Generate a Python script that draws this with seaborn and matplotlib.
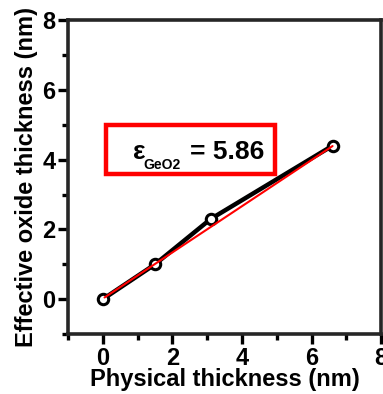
import matplotlib
matplotlib.use('Agg')
import matplotlib.pyplot as plt
import numpy as np
import pandas as pd
import seaborn as sns
from matplotlib.ticker import MultipleLocator
from matplotlib.patches import Rectangle

# measured points
phys_nm = [0.0, 1.5, 3.1, 6.6]
eot_nm = [0.0, 1.0, 2.3, 4.4]
# linear fit (k = 5.86)
fit_x = [0.05, 6.6]
fit_y = [0.05, 4.39]

sns.set_style('ticks')
plt.rcParams['font.family'] = ['Liberation Sans', 'DejaVu Sans']
plt.rcParams['font.weight'] = 'bold'
plt.rcParams['text.color'] = 'black'
plt.rcParams['axes.labelcolor'] = 'black'
plt.rcParams['xtick.color'] = 'black'
plt.rcParams['ytick.color'] = 'black'

fig = plt.figure(figsize=(3.83, 3.94), dpi=100)
ax = fig.add_axes([0.1775, 0.152, 0.818, 0.797])

df = pd.DataFrame({'x': phys_nm, 'y': eot_nm})
sns.lineplot(data=df, x='x', y='y', ax=ax, color='black', lw=3.2,
             marker='o', markersize=7.5, markerfacecolor='white',
             markeredgecolor='black', markeredgewidth=2.2, zorder=3)
sns.lineplot(x=fit_x, y=fit_y, ax=ax, color='red', lw=1.5, zorder=4)

ax.set_xlim(-1, 8)
ax.set_ylim(-1, 8)
ax.xaxis.set_major_locator(MultipleLocator(2))
ax.xaxis.set_minor_locator(MultipleLocator(1))
ax.yaxis.set_major_locator(MultipleLocator(2))
ax.yaxis.set_minor_locator(MultipleLocator(1))
ax.tick_params(which='major', direction='out', length=7, width=2.4,
               labelsize=17, pad=2)
ax.tick_params(which='minor', direction='out', length=4, width=2.4)
for lab in ax.get_xticklabels() + ax.get_yticklabels():
    lab.set_fontweight('bold')
for s in ax.spines.values():
    s.set_linewidth(2.6)

ax.set_xlabel('Physical thickness (nm)', fontsize=17, fontweight='bold', labelpad=-1)
ax.set_ylabel('Effective oxide thickness (nm)', fontsize=17, fontweight='bold', labelpad=3)

ax.add_patch(Rectangle((0.1, 3.6), 4.85, 1.4, fill=False, edgecolor='red',
                       lw=3.2, zorder=5))
# epsilon with subscript, then value
ax.text(0.88, 4.22, 'ε', fontsize=19, fontweight='bold', ha='left', va='center', zorder=6)
ax.text(1.18, 3.74, 'GeO2', fontsize=10, fontweight='bold', ha='left', va='baseline', zorder=6)
ax.text(2.5, 4.22, '= 5.86', fontsize=19, fontweight='bold', ha='left', va='center', zorder=6)

fig.savefig('out.png', dpi=100)
